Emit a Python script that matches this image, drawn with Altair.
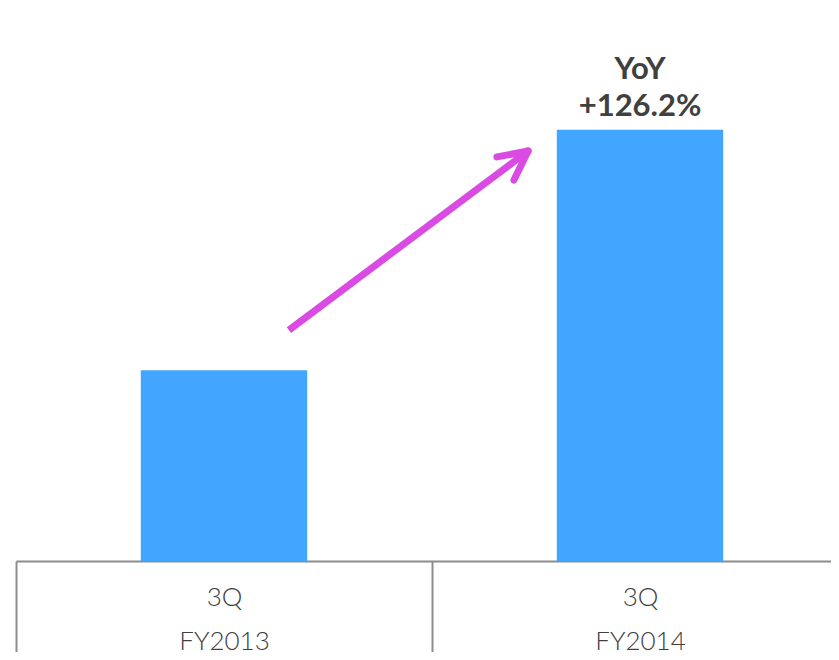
import altair as alt
import pandas as pd

# ---- data ----
quarters = ["3Q", "3Q"]
years = ["FY2013", "FY2014"]
values = [100.0, 226.2]          # index, FY2013 3Q = 100
yoy_lines = ["YoY", "+126.2%"]

# growth arrow (data units: x in band-units 0..2, y in value units)
shaft_x = [0.656, 1.231]
shaft_y = [121.1, 215.0]
head_end_x = [1.156, 1.197]
head_end_y = [211.9, 199.8]

FONT = "Lato"
BAR = "#42A5FF"
ARROW = "#DA4BE3"
TXT = "#404040"
LINE = "#8c8c8c"

cats = [f"{q}\n{y}" for q, y in zip(quarters, years)]
df = pd.DataFrame({"cat": cats, "value": values})
ann = pd.DataFrame({"pos": [1.5], "value": [values[1]], "label": ["\n".join(yoy_lines)]})
shaft = pd.DataFrame({"x0": [shaft_x[0]], "x1": [shaft_x[1]], "y0": [shaft_y[0]], "y1": [shaft_y[1]]})
head = pd.DataFrame({"x0": head_end_x, "x1": [shaft_x[1]] * 2, "y0": head_end_y, "y1": [shaft_y[1]] * 2})

yscale = alt.Scale(domain=[0, 290], nice=False)
xband = alt.Scale(domain=cats, range=[8, 840], paddingInner=0, paddingOuter=0)
xq = alt.Scale(domain=[0, 2], range=[8, 840], nice=False, zero=False)

xaxis = alt.Axis(
    title=None, labelExpr="split(datum.label, '\\n')", labelAngle=0,
    labelFontSize=26, labelFont=FONT, labelFontWeight=300, labelColor=TXT, labelLineHeight=44,
    labelBaseline="top", labelPadding=-77, labelOverlap=False, labelFlush=False,
    tickBand="extent", tickSize=100, tickColor=LINE, tickWidth=2,
    domainColor=LINE, domainWidth=2,
)

bars = alt.Chart(df).mark_bar(color=BAR, width=alt.RelativeBandSize(0.4)).encode(
    x=alt.X("cat:N", scale=xband, axis=xaxis),
    y=alt.Y("value:Q", scale=yscale, axis=None),
)
text = alt.Chart(ann).mark_text(
    lineBreak="\n", font=FONT, fontSize=31, fontWeight="bold", color=TXT,
    baseline="bottom", dy=-44, lineHeight=37,
).encode(
    x=alt.X("pos:Q", scale=xq, axis=None),
    y=alt.Y("value:Q", scale=yscale, axis=None),
    text="label:N",
)
shaft_l = alt.Chart(shaft).mark_rule(color=ARROW, strokeWidth=7, strokeCap="butt").encode(
    x=alt.X("x0:Q", scale=xq, axis=None), x2="x1:Q",
    y=alt.Y("y0:Q", scale=yscale, axis=None), y2="y1:Q",
)
head_l = alt.Chart(head).mark_rule(color=ARROW, strokeWidth=7, strokeCap="round").encode(
    x=alt.X("x0:Q", scale=xq, axis=None), x2="x1:Q",
    y=alt.Y("y0:Q", scale=yscale, axis=None), y2="y1:Q",
)

chart = alt.layer(bars, text, shaft_l, head_l).resolve_scale(x="independent").properties(
    width=823, height=553,
    autosize=alt.AutoSizeParams(type="none"),
    padding={"left": 0, "top": 0, "right": 0, "bottom": 91},
    background="white",
).configure_view(strokeWidth=0)

chart.save("out.html", embed_options={"renderer": "svg", "actions": False})
